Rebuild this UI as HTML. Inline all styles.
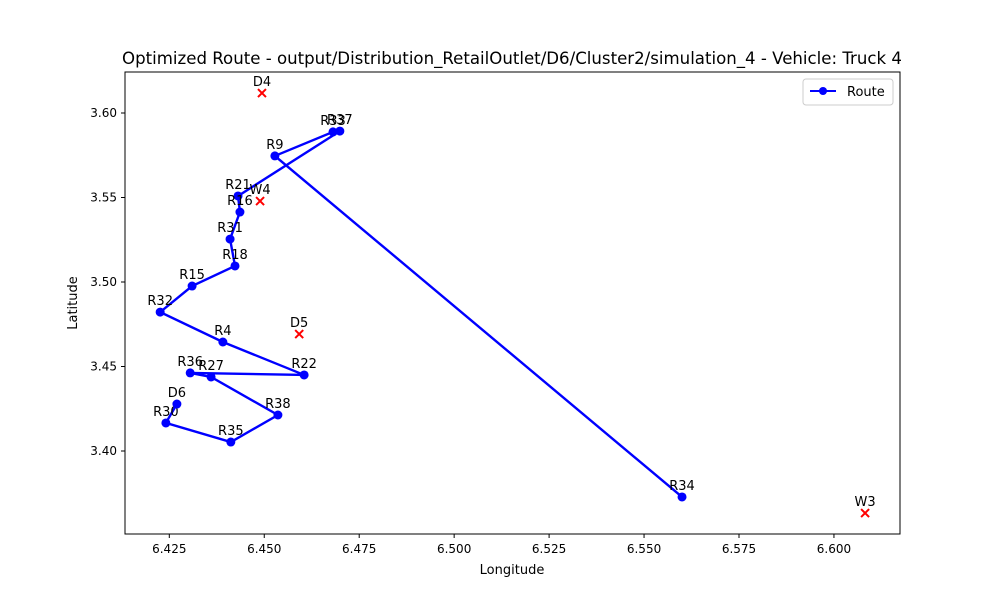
<!DOCTYPE html>
<html><head><meta charset="utf-8"><style>
body{margin:0;background:#fff}
text{font-family:"DejaVu Sans","Liberation Sans",sans-serif;fill:#000}
</style></head><body>
<svg id="chart" width="1000" height="600" xmlns="http://www.w3.org/2000/svg">
<rect width="1000" height="600" fill="#fff"/>
<text x="512" y="64" text-anchor="middle" font-size="16.6">Optimized Route - output/Distribution_RetailOutlet/D6/Cluster2/simulation_4 - Vehicle: Truck 4</text>
<g id="grid"></g>
<g id="marks"></g>
<rect x="125" y="72" width="775" height="462" fill="none" stroke="#000" stroke-width="1"/>
<text x="512" y="574" text-anchor="middle" font-size="13">Longitude</text>
<text transform="translate(77,303) rotate(-90)" text-anchor="middle" font-size="13">Latitude</text>
<g>
<rect x="803" y="79" width="90" height="26" fill="#fff" stroke="#ccc" rx="3"/>
<line x1="810" y1="91" x2="836" y2="91" stroke="#0000ff" stroke-width="2"/>
<circle cx="823" cy="91" r="4" fill="#0000ff"/>
<text x="847" y="96" font-size="13">Route</text>
</g>
</svg>
<script>
const routeNames=["R34","R9","R33","R37","R21","R16","R31","R18","R15","R32","R4","R22","R36","R27","R38","R35","R30","D6"];
const routeLon=[6.5600,6.4528,6.4681,6.4699,6.4431,6.4436,6.4410,6.4423,6.4310,6.4226,6.4391,6.4605,6.4305,6.4360,6.4536,6.4412,6.4241,6.4270];
const routeLat=[3.3728,3.5746,3.5888,3.5893,3.5509,3.5414,3.5254,3.5095,3.4976,3.4822,3.4645,3.4450,3.4462,3.4438,3.4213,3.4053,3.4166,3.4278];
const depotNames=["D4","W4","D5","W3"];
const depotLon=[6.4494,6.4489,6.4592,6.6082];
const depotLat=[3.6118,3.5479,3.4692,3.3633];
const xTicks=[6.425,6.450,6.475,6.500,6.525,6.550,6.575,6.600];
const yTicks=[3.40,3.45,3.50,3.55,3.60];
const NS="http://www.w3.org/2000/svg";
const X=v=>169.3+(v-6.425)*3798;
const Y=v=>113+(3.60-v)*1690;
const g=document.getElementById('marks');
const grid=document.getElementById('grid');
function mk(t,a,p){const e=document.createElementNS(NS,t);for(const k in a)e.setAttribute(k,a[k]);(p||g).appendChild(e);return e;}
xTicks.forEach(v=>{
 const l=mk('line',{x1:X(v),x2:X(v),y1:534,y2:538,stroke:'#000'},grid);
 
 
 const t=mk('text',{x:X(v),y:553,'text-anchor':'middle','font-size':12},grid);t.textContent=v.toFixed(3);
 
 
});
yTicks.forEach(v=>{
 const l=mk('line',{x1:121,x2:125,y1:Y(v),y2:Y(v),stroke:'#000'},grid);
 
 
 const t=mk('text',{x:117,y:Y(v)+4,'text-anchor':'end','font-size':12},grid);t.textContent=v.toFixed(2);
 
 
});
const pl=mk('polyline',{points:routeLon.map((v,i)=>X(v)+','+Y(routeLat[i])).join(' '),fill:'none',stroke:'#0000ff','stroke-width':2.4});


routeLon.forEach((v,i)=>{
 const c=mk('circle',{cx:X(v),cy:Y(routeLat[i]),r:4.5,fill:'#0000ff'});
 
 
 const t=mk('text',{x:X(v),y:Y(routeLat[i])-7,'text-anchor':'middle','font-size':13});t.textContent=routeNames[i];
 
 
});
depotLon.forEach((v,i)=>{
 const x=X(v),y=Y(depotLat[i]);
 const p=mk('path',{d:`M${x-4},${y-4}L${x+4},${y+4}M${x-4},${y+4}L${x+4},${y-4}`,stroke:'#ff0000','stroke-width':2});
 
 
 const t=mk('text',{x:x,y:y-7,'text-anchor':'middle','font-size':13});t.textContent=depotNames[i];
 
 
});
</script>
</body></html>
